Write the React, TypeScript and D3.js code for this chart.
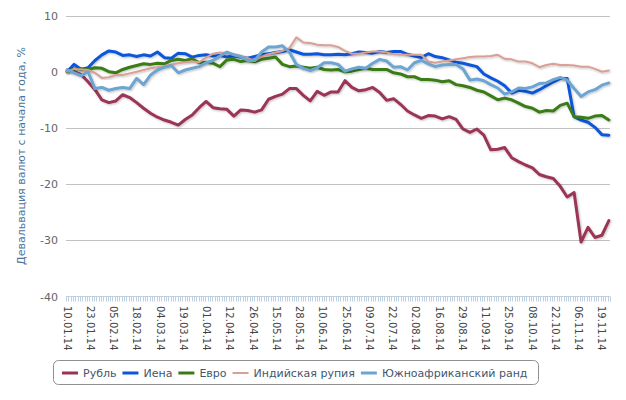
import React, { useEffect, useRef } from "react";
import * as d3 from "d3";

const tickLabels = [
  "10.01.14", "23.01.14", "05.02.14", "18.02.14", "04.03.14", "19.03.14",
  "01.04.14", "12.04.14", "26.04.14", "15.05.14", "28.05.14", "10.06.14",
  "25.06.14", "09.07.14", "22.07.14", "02.08.14", "16.08.14", "29.08.14",
  "11.09.14", "25.09.14", "08.10.14", "22.10.14", "06.11.14", "19.11.14",
];
const categoryCount = 234;
const labelStep = 10;

const rubleValues = [
  0.3, 0, -0.5, -1.8, -3.2, -5, -5.5, -5.2, -4.1, -4.6,
  -5.5, -6.5, -7.4, -8.1, -8.6, -9.0, -9.5, -8.5, -7.7, -6.4,
  -5.3, -6.4, -6.6, -6.7, -7.9, -6.8, -6.9, -7.2, -6.8, -4.9,
  -4.4, -4.0, -3.0, -3.0, -4.2, -5.2, -3.5, -4.2, -3.6, -3.6,
  -1.6, -2.8, -3.4, -3.2, -2.8, -3.7, -5.1, -4.8, -5.8, -7.0,
  -7.7, -8.3, -7.8, -7.9, -8.4, -8.0, -8.5, -10.2, -10.8, -10.2,
  -11.3, -13.9, -13.8, -13.5, -15.3, -16, -16.6, -17.1, -18.3, -18.7,
  -19, -20.4, -22.3, -21.5, -30.3, -27.7, -29.5, -29.1, -26.5,
];
const yenValues = [
  0, 1.3, 0.4, 0.7, 2.0, 3.0, 3.7, 3.5, 2.9, 3.0,
  2.7, 3.0, 2.8, 3.5, 2.5, 2.4, 3.3, 3.2, 2.6, 2.9,
  3.0, 2.8, 2.9, 2.6, 2.8, 2.6, 2.4, 2.7, 3.0, 3.2,
  3.4, 3.6, 3.9, 3.5, 3.1, 3.1, 3.2, 3.0, 3.0, 3.1,
  3.0, 3.2, 3.5, 3.4, 3.3, 3.6, 3.4, 3.6, 3.6, 3.1,
  2.8, 2.5, 3.2, 2.7, 2.5, 2.1, 1.7, 1.5, 1.2, 0.9,
  -0.4, -1.1, -1.7, -2.5, -3.8, -3.3, -3.5, -3.8, -3.2, -2.5,
  -1.8, -1.2, -1.2, -8.0, -8.6, -9.0, -9.9, -11.2, -11.3,
];
const euroValues = [
  0, 0.5, 0.5, 0.4, 0.7, 0.6, 0, -0.2, 0.4, 0.8,
  1.1, 1.4, 1.3, 1.5, 1.4, 2.0, 2.2, 2.0, 2.3, 1.6,
  1.7, 1.5, 0.9, 2.1, 2.2, 1.8, 2.0, 1.8, 2.2, 2.4,
  2.6, 1.3, 0.9, 1.0, 0.8, 0.6, 0.8, 0.4, 0.3, 0.4,
  0, 0.1, 0.4, 0.6, 0.4, 0.4, 0.4, -0.2, -0.4, -0.9,
  -0.9, -1.4, -1.4, -1.5, -1.8, -1.6, -2.3, -2.5, -2.8, -3.3,
  -3.6, -4.3, -5.0, -4.7, -5.0, -5.6, -6.2, -6.5, -7.2, -6.9,
  -7.0, -6.0, -5.6, -8.0, -8.1, -8.3, -7.9, -7.8, -8.6,
];
const rupeeValues = [
  0, 0.5, 0.4, 0.3, -0.2, -1.1, -1.0, -0.6, -0.6, -0.3,
  0, 0.3, 0.6, 0.8, 1.0, 1.3, 1.5, 1.7, 1.8, 1.7,
  2.5, 3.2, 3.4, 3.3, 3.1, 2.8, 2.4, 1.9, 2.7, 3.1,
  3.4, 3.7, 4.2, 6.1, 5.2, 5.1, 4.8, 4.7, 4.7, 4.4,
  3.7, 3.2, 3.2, 3.4, 3.6, 3.6, 3.4, 3.1, 3.0, 3.0,
  3.0, 3.0, 1.8, 1.6, 1.8, 2.0, 2.2, 2.4, 2.6, 2.7,
  2.7, 2.8, 3.0, 2.3, 2.2, 1.8, 1.8, 1.5, 0.8, 1.2,
  1.4, 1.2, 1.2, 1.1, 0.9, 0.9, 0.5, 0.0, 0.2,
];
const randValues = [
  0.3, -0.2, -0.7, 0, -3.0, -2.8, -3.3, -3.0, -2.8, -3.0,
  -1.2, -2.3, -0.6, 0.3, 0.8, 1.1, -0.2, 0.3, 0.6, 0.9,
  1.6, 2.0, 2.8, 3.5, 3.0, 2.7, 2.0, 2.0, 3.5, 4.4,
  4.4, 4.6, 3.5, 1.3, 0.6, 0.2, 0.7, 1.6, 1.6, 1.3,
  0.1, 0.5, 0.8, 0.6, 1.5, 2.2, 1.9, 0.8, 0.9, 0.3,
  1.6, 2.0, 1.4, 0.9, 1.2, 1.3, 1.3, 0.5, -1.5, -1.3,
  -1.6, -2.3, -2.9, -4.0, -3.6, -2.9, -3.0, -2.7, -2.1, -2.0,
  -1.4, -1.0, -1.5, -3.0, -4.4, -3.6, -3.2, -2.4, -2.0,
];

const seriesNames = ["Рубль", "Иена", "Евро", "Индийская рупия", "Южноафриканский ранд"];
const seriesColors = ["#9b3454", "#0a56dc", "#3a7b14", "#d9a096", "#6ca4d2"];
const seriesWidths = [3, 3, 3, 2, 3];
const yTicks = [10, 0, -10, -20, -30, -40];
const yTitle = "Девальвация валют с начала года, %";

const font = "'DejaVu Sans', sans-serif";

export default function App() {
  const ref = useRef<SVGSVGElement>(null);

  useEffect(() => {
    const svg = d3.select(ref.current);
    svg.selectAll("*").remove();

    const left = 66;
    const right = 610;
    const top = 15.5;
    const bottom = 296.5;

    const defs = svg.append("defs");
    const filter = defs
      .append("filter")
      .attr("id", "shadow")
      .attr("x", "-5%")
      .attr("y", "-5%")
      .attr("width", "110%")
      .attr("height", "110%");
    filter
      .append("feDropShadow")
      .attr("dx", 1)
      .attr("dy", 1)
      .attr("stdDeviation", 0.8)
      .attr("flood-color", "#000")
      .attr("flood-opacity", 0.25);

    const x = d3
      .scaleBand<number>()
      .domain(d3.range(categoryCount))
      .range([left, right]);
    const cx = (i: number) => (x(i) as number) + x.bandwidth() / 2;
    const y = d3.scaleLinear().domain([-40, 10]).range([bottom, top]);

    const series = [rubleValues, yenValues, euroValues, rupeeValues, randValues];
    const sx = d3
      .scaleLinear()
      .domain([0, rubleValues.length - 1])
      .range([cx(0), cx(categoryCount - 1)]);

    // grid
    svg
      .append("g")
      .selectAll("line")
      .data(yTicks.filter((t) => t !== 0 && t !== -40))
      .enter()
      .append("line")
      .attr("x1", left)
      .attr("x2", right)
      .attr("y1", (d) => Math.round(y(d)) + 0.5)
      .attr("y2", (d) => Math.round(y(d)) + 0.5)
      .attr("stroke", "#c0c0c0")
      .attr("stroke-width", 1);

    // y labels
    svg
      .append("g")
      .selectAll("text")
      .data(yTicks)
      .enter()
      .append("text")
      .attr("x", 58)
      .attr("y", (d) => y(d) + 4)
      .attr("text-anchor", "end")
      .attr("font-family", font)
      .attr("font-size", 11)
      .attr("fill", "#666")
      .text((d) => String(d));

    svg
      .append("text")
      .attr("transform", `translate(25, ${(top + bottom) / 2}) rotate(-90)`)
      .attr("text-anchor", "middle")
      .attr("font-family", font)
      .attr("font-size", 11)
      .attr("fill", "#4d759e")
      .text(yTitle);

    // x axis
    const axis = svg.append("g");
    axis
      .append("line")
      .attr("x1", left)
      .attr("x2", right)
      .attr("y1", bottom)
      .attr("y2", bottom)
      .attr("stroke", "#c0d0e0");
    axis
      .selectAll("line.tick")
      .data(d3.range(categoryCount + 1))
      .enter()
      .append("line")
      .attr("class", "tick")
      .attr("x1", (i) => Math.round(left + i * x.step()) + 0.5)
      .attr("x2", (i) => Math.round(left + i * x.step()) + 0.5)
      .attr("y1", bottom)
      .attr("y2", bottom + 5)
      .attr("stroke", "#c0d0e0");
    axis
      .selectAll("text")
      .data(tickLabels)
      .enter()
      .append("text")
      .attr("transform", (d, i) => `translate(${cx(i * labelStep)}, 306) rotate(90)`)
      .attr("dy", "0.35em")
      .attr("font-family", font)
      .attr("font-size", 10)
      .attr("fill", "#444")
      .text((d) => d);

    // zero line
    svg
      .append("line")
      .attr("x1", left)
      .attr("x2", right)
      .attr("y1", y(0))
      .attr("y2", y(0))
      .attr("stroke", "#6e6e6e")
      .attr("stroke-width", 2)
      .attr("filter", "url(#shadow)");

    const line = d3
      .line<number>()
      .x((d, i) => sx(i))
      .y((d) => y(d));

    svg
      .append("g")
      .selectAll("path")
      .data(series)
      .enter()
      .append("path")
      .attr("d", (d) => line(d))
      .attr("fill", "none")
      .attr("stroke", (d, i) => seriesColors[i])
      .attr("stroke-width", (d, i) => seriesWidths[i])
      .attr("stroke-linejoin", "round")
      .attr("stroke-linecap", "round")
      .attr("filter", "url(#shadow)");

    // legend
    const legend = svg.append("g");
    legend
      .append("rect")
      .attr("x", 53.5)
      .attr("y", 360.5)
      .attr("width", 485)
      .attr("height", 24)
      .attr("rx", 5)
      .attr("fill", "none")
      .attr("stroke", "#909090");
    let pos = 62;
    seriesNames.forEach((name, i) => {
      legend
        .append("line")
        .attr("x1", pos)
        .attr("x2", pos + 16)
        .attr("y1", 373)
        .attr("y2", 373)
        .attr("stroke", seriesColors[i])
        .attr("stroke-width", seriesWidths[i]);
      const t = legend
        .append("text")
        .attr("x", pos + 21)
        .attr("y", 377)
        .attr("font-family", font)
        .attr("font-size", 11)
        .attr("fill", "#3e576f")
        .text(name);
      const len = (t.node() as SVGTextElement).getComputedTextLength();
      pos += 21 + len + 6;
    });
  }, []);

  return (
    <svg
      ref={ref}
      width={626}
      height={400}
      style={{ position: "absolute", left: 0, top: 0, display: "block", background: "#fff" }}
    />
  );
}
